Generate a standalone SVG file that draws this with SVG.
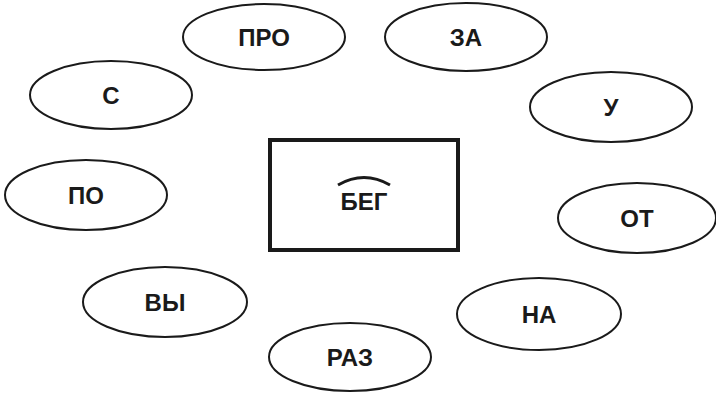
<svg xmlns="http://www.w3.org/2000/svg" width="716" height="396" viewBox="0 0 716 396">
<style>
.n ellipse{fill:#fff;stroke:#1a1a1a;stroke-width:2}
.t{font-family:"Liberation Sans",Arial,sans-serif;font-weight:bold;font-size:24px;fill:#1a1a1a;text-anchor:middle}
</style>
<rect width="716" height="396" fill="#fff"/>
<g id="connectors"></g>
<g id="root">
<rect x="270" y="140" width="188" height="110" fill="#fff" stroke="#1a1a1a" stroke-width="4"/>
<path d="M338,185 Q364,170 390,185" fill="none" stroke="#1a1a1a" stroke-width="3"/>
<text class="t" x="364" y="210">БЕГ</text>
</g>
<g id="n-pro" class="n"><ellipse cx="264" cy="37" rx="81" ry="33"/><text class="t" x="264" y="46">ПРО</text></g>
<g id="n-za" class="n"><ellipse cx="466" cy="37" rx="81" ry="34"/><text class="t" x="466" y="46">ЗА</text></g>
<g id="n-s" class="n"><ellipse cx="111" cy="95" rx="81" ry="34"/><text class="t" x="111" y="104">С</text></g>
<g id="n-u" class="n"><ellipse cx="611" cy="107" rx="81" ry="35"/><text class="t" x="611" y="116">У</text></g>
<g id="n-po" class="n"><ellipse cx="86" cy="195" rx="81" ry="35"/><text class="t" x="86" y="204">ПО</text></g>
<g id="n-ot" class="n"><ellipse cx="637" cy="218" rx="79" ry="35"/><text class="t" x="637" y="227">ОТ</text></g>
<g id="n-vy" class="n"><ellipse cx="165" cy="302" rx="82" ry="35"/><text class="t" x="165" y="311">ВЫ</text></g>
<g id="n-na" class="n"><ellipse cx="539" cy="314" rx="82" ry="36"/><text class="t" x="539" y="323">НА</text></g>
<g id="n-raz" class="n"><ellipse cx="350" cy="357" rx="81" ry="34"/><text class="t" x="350" y="366">РАЗ</text></g>
</svg>
